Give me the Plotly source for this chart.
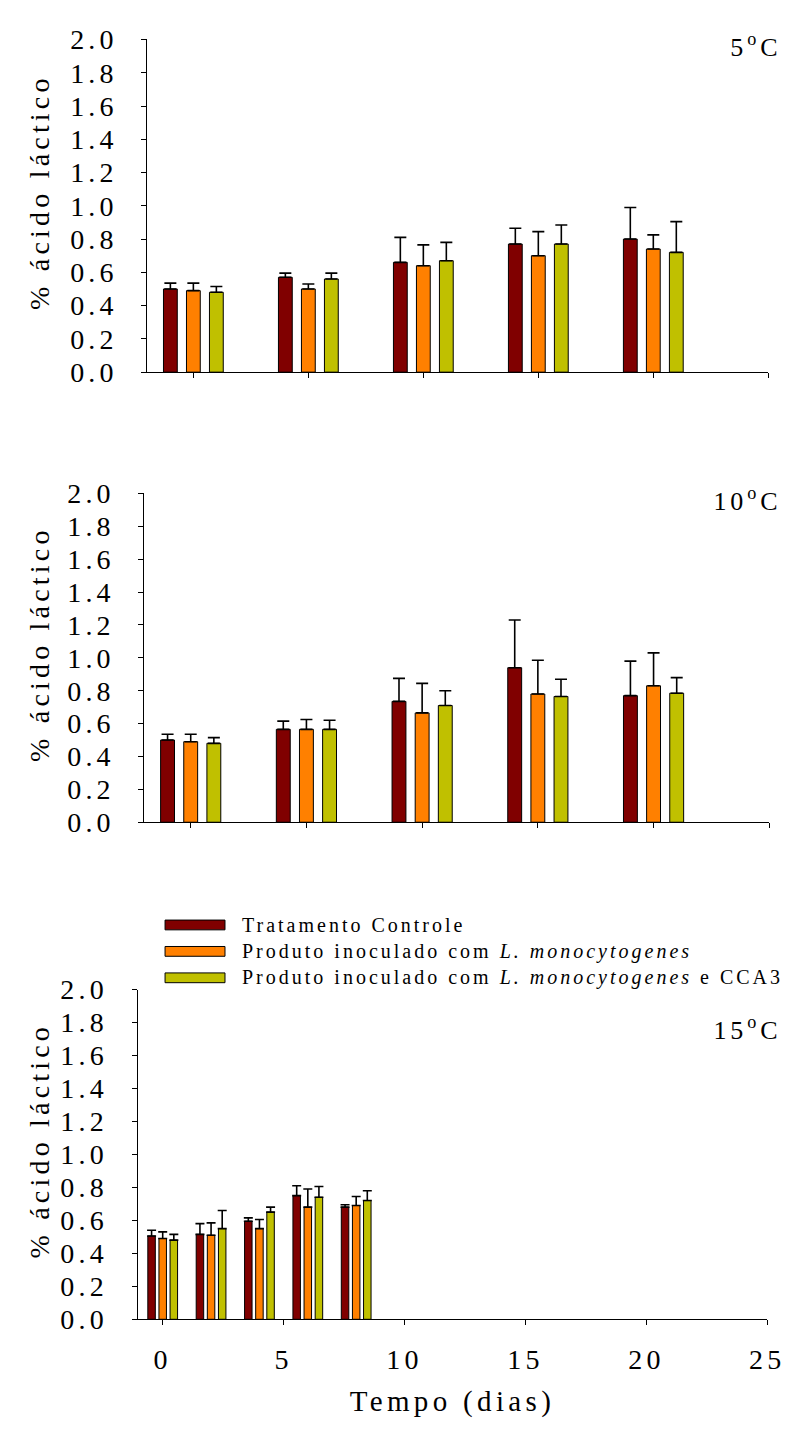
import plotly.graph_objects as go

# ---------------- data ----------------
sample_idx = [0, 1, 2, 3, 4]          # sampling points (panels 5 °C and 10 °C)
days15 = [0, 2, 4, 6, 8]              # days (panel 15 °C)

series_names = [
    "Tratamento Controle",
    "Produto inoculado com <i>L. monocytogenes</i>",
    "Produto inoculado com <i>L. monocytogenes</i> e CCA3",
]
colors = ["#800000", "#FF8000", "#C0C000"]

# 5 °C
ctrl5 = [0.50, 0.57, 0.66, 0.77, 0.80]
ctrl5_sd = [0.035, 0.025, 0.15, 0.095, 0.19]
lm5 = [0.49, 0.50, 0.64, 0.70, 0.74]
lm5_sd = [0.045, 0.03, 0.125, 0.145, 0.085]
cca5 = [0.48, 0.56, 0.67, 0.77, 0.72]
cca5_sd = [0.035, 0.035, 0.11, 0.115, 0.185]

# 10 °C
ctrl10 = [0.50, 0.565, 0.735, 0.94, 0.77]
ctrl10_sd = [0.035, 0.05, 0.14, 0.29, 0.21]
lm10 = [0.49, 0.565, 0.665, 0.78, 0.83]
lm10_sd = [0.045, 0.06, 0.18, 0.205, 0.20]
cca10 = [0.48, 0.565, 0.71, 0.765, 0.785]
cca10_sd = [0.035, 0.055, 0.09, 0.105, 0.095]

# 15 °C
ctrl15 = [0.505, 0.515, 0.595, 0.75, 0.68]
ctrl15_sd = [0.035, 0.065, 0.02, 0.06, 0.015]
lm15 = [0.49, 0.51, 0.55, 0.68, 0.69]
lm15_sd = [0.04, 0.075, 0.055, 0.11, 0.055]
cca15 = [0.48, 0.55, 0.65, 0.74, 0.72]
cca15_sd = [0.035, 0.11, 0.03, 0.065, 0.06]

y_ticks = [0.0, 0.2, 0.4, 0.6, 0.8, 1.0, 1.2, 1.4, 1.6, 1.8, 2.0]
x15_ticks = [0, 5, 10, 15, 20, 25]
temps = ["5<sup>o</sup>C", "10<sup>o</sup>C", "15<sup>o</sup>C"]

# ---------------- layout helpers ----------------
W, H = 799, 1439
FONT = "Liberation Serif, Times New Roman, serif"


def fx(p):
    return p / W


def fy(p):
    return 1 - p / H


panels = [
    dict(x=sample_idx, data=[(ctrl5, ctrl5_sd), (lm5, lm5_sd), (cca5, cca5_sd)],
         xdom=(150, 782), ydom=(25, 365), xr=[-0.4, 5], w=0.12, step=0.2, cap=6),
    dict(x=sample_idx, data=[(ctrl10, ctrl10_sd), (lm10, lm10_sd), (cca10, cca10_sd)],
         xdom=(147, 783), ydom=(489, 825), xr=[-0.4, 5], w=0.12, step=0.2, cap=6),
    dict(x=days15, data=[(ctrl15, ctrl15_sd), (lm15, lm15_sd), (cca15, cca15_sd)],
         xdom=(140, 781), ydom=(996, 1333), xr=[-1.04, 25], w=0.31, step=0.46, cap=4.5),
]

fig = go.Figure()
layout = dict(
    width=W, height=H,
    margin=dict(l=0, r=0, t=0, b=0),
    paper_bgcolor="white", plot_bgcolor="white",
    barmode="overlay", showlegend=False,
    font=dict(family=FONT, color="black"),
)
annotations = []
shapes = []

for k, p in enumerate(panels):
    suf = "" if k == 0 else str(k + 1)
    for j, (vals, sd) in enumerate(p["data"]):
        off = (j - 1) * p["step"] - p["w"] / 2
        fig.add_trace(go.Bar(
            x=p["x"], y=vals, width=p["w"], offset=off,
            name=series_names[j],
            marker=dict(color=colors[j], line=dict(color="black", width=1)),
            error_y=dict(type="data", array=sd, arrayminus=[0] * len(sd),
                         symmetric=False, color="black", thickness=1.6,
                         width=p["cap"]),
            xaxis="x" + suf, yaxis="y" + suf,
        ))
    xa = dict(
        domain=[fx(p["xdom"][0]), fx(p["xdom"][1])],
        range=p["xr"], anchor="y" + suf,
        showline=True, linecolor="black", linewidth=1,
        ticks="outside", ticklen=5, tickcolor="black", tickwidth=1,
        showgrid=False, zeroline=False,
    )
    if k < 2:
        xa.update(tickvals=[0, 1, 2, 3, 4, 5], showticklabels=False)
    else:
        xa.update(tickvals=x15_ticks, ticktext=[str(v) for v in x15_ticks],
                  tickfont=dict(size=28, family=FONT), ticklabelstandoff=10,
                  title=dict(text="Tempo (dias)", font=dict(size=29, family=FONT),
                             standoff=16))
    ya = dict(
        domain=[fy(p["ydom"][1]), fy(p["ydom"][0])],
        range=[0, 2], anchor="x" + suf,
        showline=True, linecolor="black", linewidth=1,
        ticks="outside", ticklen=5, tickcolor="black", tickwidth=1,
        tickvals=y_ticks, ticktext=["%.1f" % v for v in y_ticks],
        tickfont=dict(size=28, family=FONT), ticklabelstandoff=18,
        showgrid=False, zeroline=False,
    )
    layout["xaxis" + suf] = xa
    layout["yaxis" + suf] = ya
    # y title
    annotations.append(dict(
        text="% ácido láctico", textangle=-90,
        x=fx(40), y=fy((p["ydom"][0] + p["ydom"][1]) / 2 - 14),
        xref="paper", yref="paper", showarrow=False,
        font=dict(size=28, family=FONT), xanchor="center", yanchor="middle",
    ))
    # temperature label
    annotations.append(dict(
        text=temps[k], x=fx(797), y=fy(p["ydom"][0] + (6 if k < 2 else 40)),
        xref="paper", yref="paper", showarrow=False, align="right",
        font=dict(size=26, family=FONT), xanchor="right", yanchor="middle",
    ))

# legend (custom swatches)
leg_rows = [930, 957, 984]
for j, yy in enumerate(leg_rows):
    shapes.append(dict(type="rect", xref="paper", yref="paper",
                       x0=fx(168), x1=fx(229), y0=fy(yy + 5), y1=fy(yy - 5),
                       fillcolor=colors[j], line=dict(color="black", width=1)))
    annotations.append(dict(
        text=series_names[j], x=fx(244), y=fy(yy),
        xref="paper", yref="paper", showarrow=False, align="left",
        font=dict(size=20, family=FONT), xanchor="left", yanchor="middle",
    ))

layout["annotations"] = annotations
layout["shapes"] = shapes
fig.update_layout(**layout)

# wide letter tracking, as in the original typesetting
post = """
var gd = document.getElementById('{plot_id}');
function track(){
  gd.querySelectorAll('text').forEach(function(t){ t.style.letterSpacing = '0.15em'; });
}
track();
gd.on('plotly_afterplot', track);
"""
fig.write_html("out.html", post_script=post)
